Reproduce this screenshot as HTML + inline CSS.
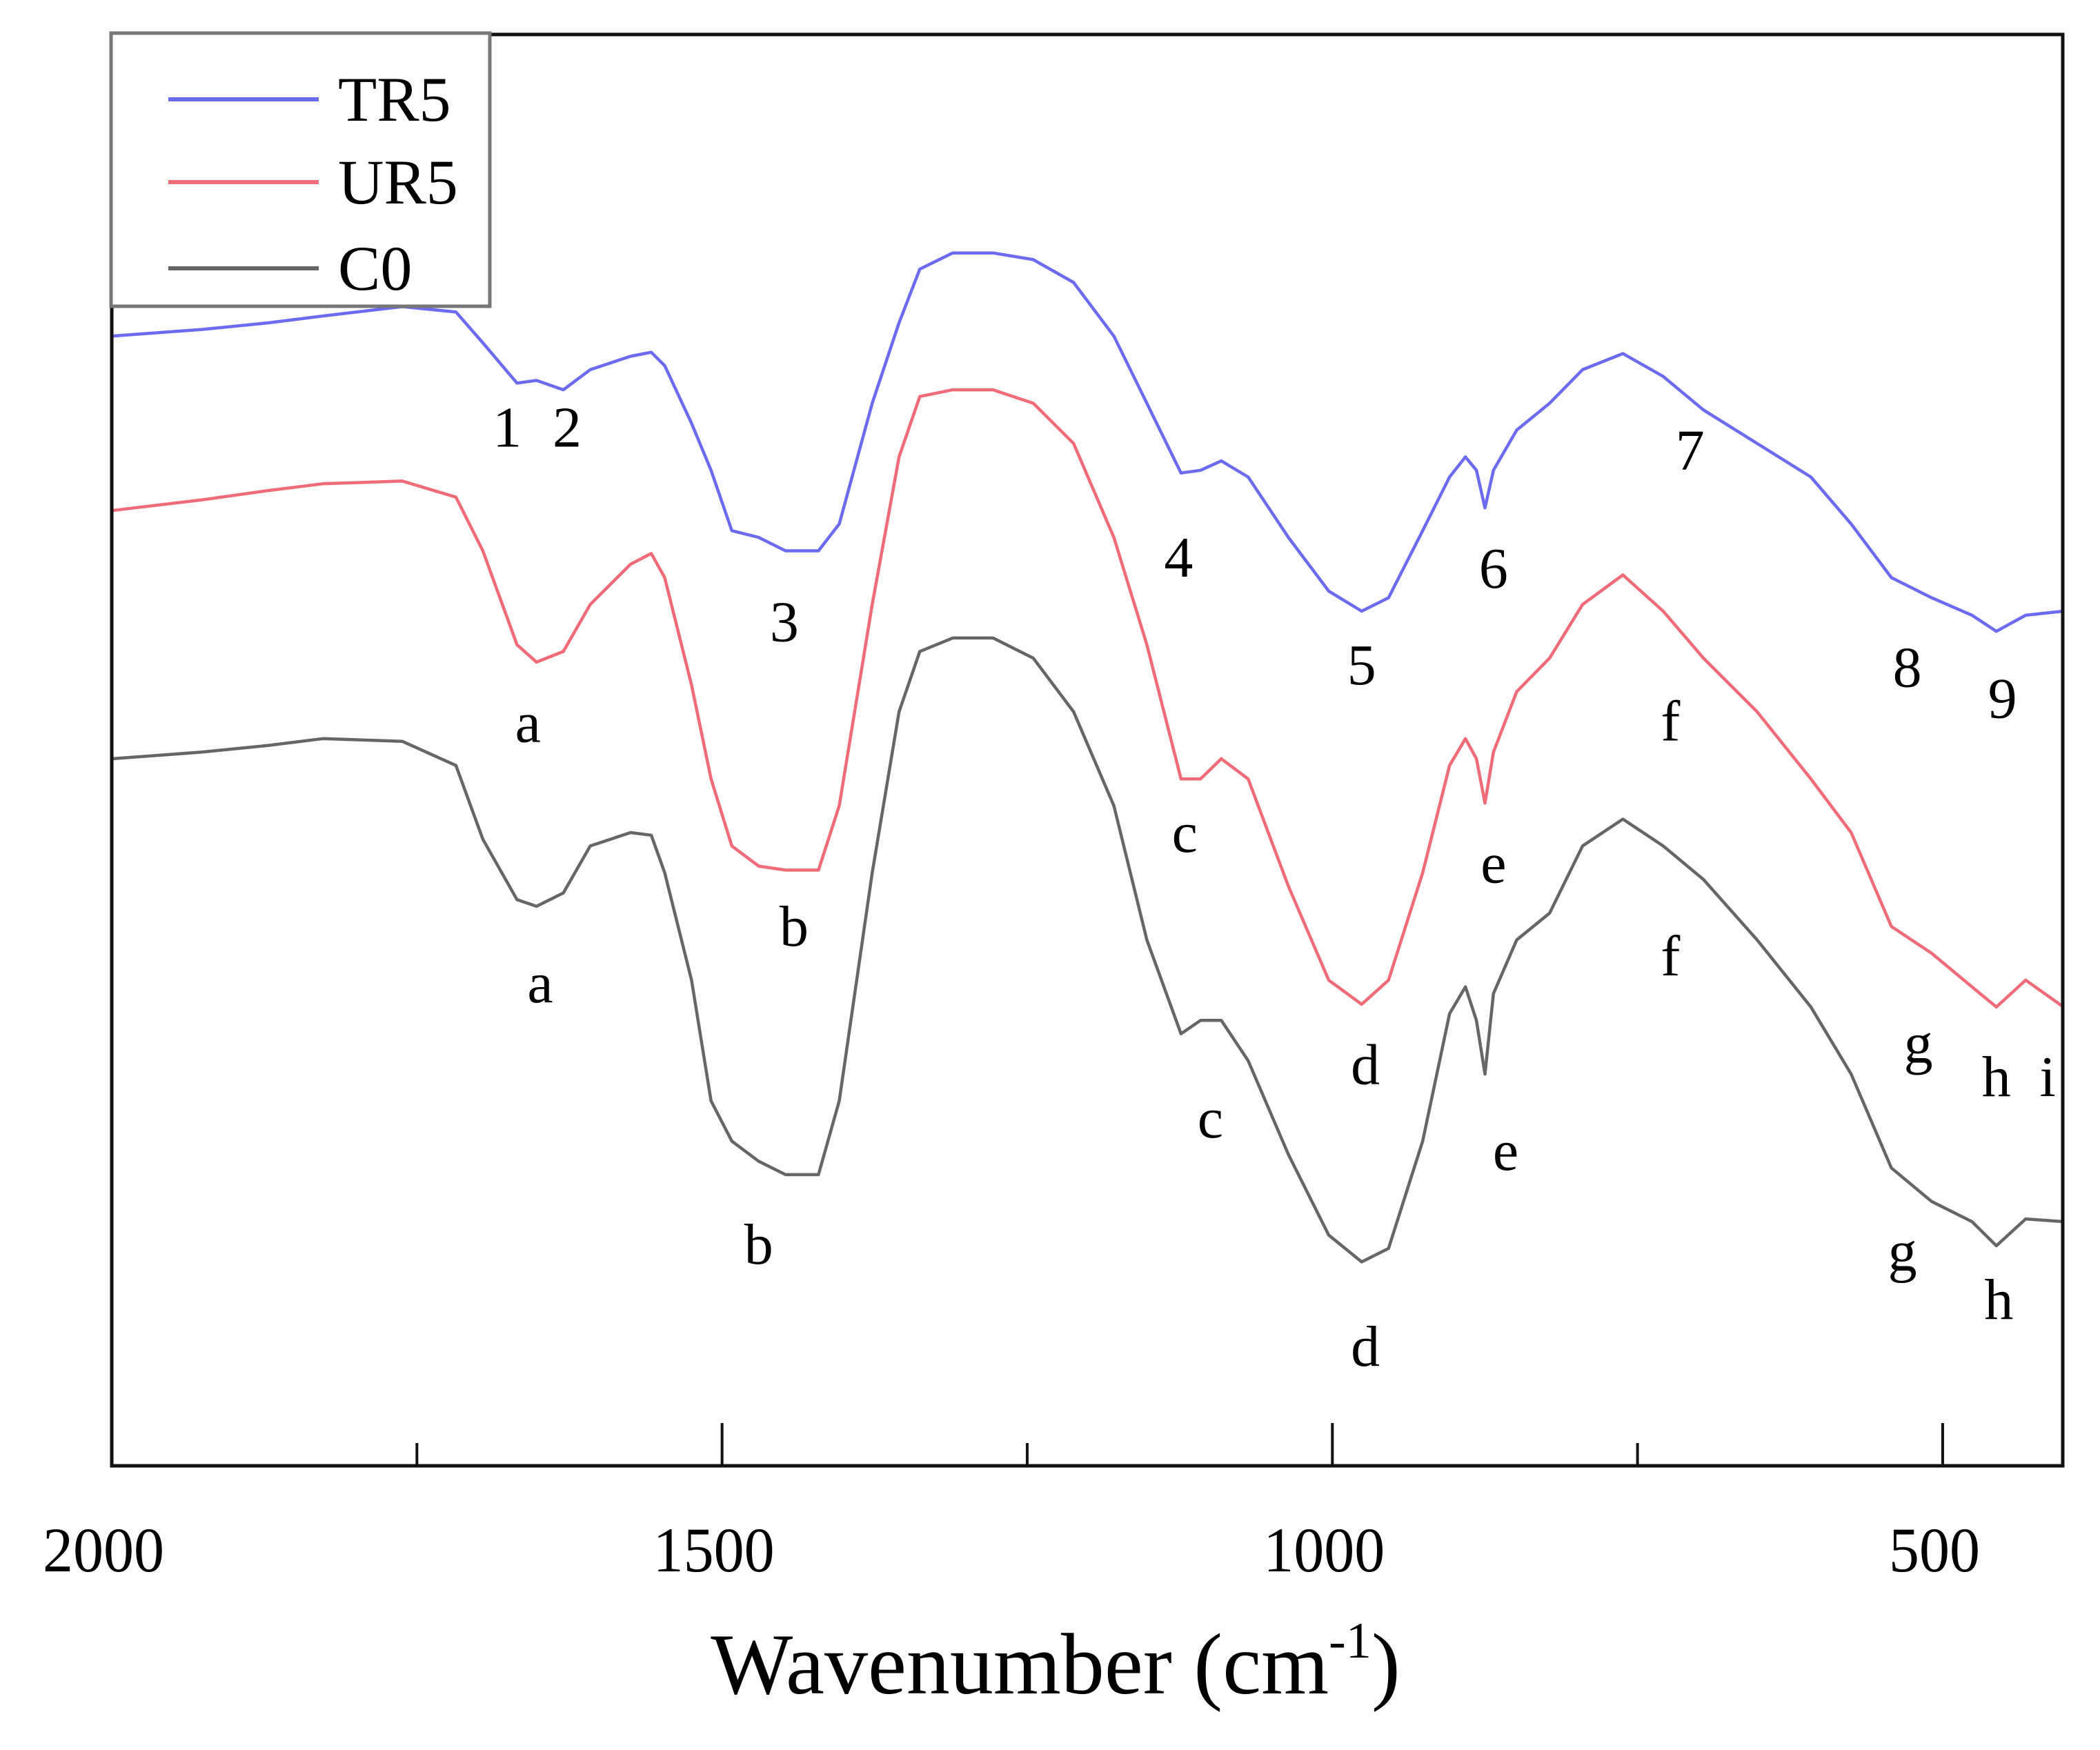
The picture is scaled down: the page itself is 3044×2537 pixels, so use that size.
<!DOCTYPE html>
<html><head><meta charset="utf-8"><style>
html,body{margin:0;padding:0;background:#fdfdfd;}
svg{display:block;font-family:"Liberation Serif",serif;}
</style></head><body>
<svg id="chart" width="3044" height="2537" viewBox="0 0 3044 2537">
<rect x="0" y="0" width="3044" height="2537" fill="#fdfdfd"/>
<g id="series"></g>
<g id="peaks"></g>
<rect x="162" y="50" width="2828" height="2075" fill="none" stroke="#111" stroke-width="5"/>
<g id="xaxis"></g>
<text x="1530" y="2455" font-size="126" text-anchor="middle">Wavenumber (cm<tspan font-size="74" dy="-52">-1</tspan><tspan dy="52">)</tspan></text>
<g>
<rect x="161" y="48" width="549" height="396" fill="#fdfdfd" stroke="#777" stroke-width="5"/>
<line x1="244" y1="144" x2="462" y2="144" stroke="#6b6bf0" stroke-width="6"/>
<text x="490" y="175" font-size="92">TR5</text>
<line x1="244" y1="264" x2="462" y2="264" stroke="#f06b78" stroke-width="6"/>
<text x="490" y="295" font-size="92">UR5</text>
<line x1="244" y1="389" x2="462" y2="389" stroke="#666" stroke-width="6"/>
<text x="490" y="420" font-size="92">C0</text>
</g>
</svg>
<script>
const wavenumbers=[2000,1926,1871,1827,1762,1718,1696,1668,1652,1630,1608,1575,1558,1547,1525,1509,1492,1470,1448,1421,1404,1377,1355,1338,1311,1278,1245,1212,1179,1152,1124,1108,1091,1069,1036,1003,976,954,926,904,891,882,875,868,849,822,795,762,729,696,652,608,575,542,509,476,456,432,401];
const tr5=[84.2,84.7,85.2,85.7,86.4,86,83.7,80.7,80.9,80.2,81.7,82.7,83,82,77.7,74.2,69.7,69.2,68.2,68.2,70.2,79.2,85.2,89.2,90.4,90.4,89.9,88.2,84.2,79.2,74,74.2,74.9,73.7,69.2,65.2,63.7,64.7,69.7,73.7,75.2,74.2,71.4,74.2,77.2,79.2,81.7,82.9,81.2,78.7,76.2,73.7,70.2,66.2,64.7,63.4,62.2,63.4,63.7];
const ur5=[71.2,72,72.7,73.2,73.4,72.2,68.2,61.2,59.9,60.7,64.2,67.2,68,66.2,58.2,51.2,46.2,44.7,44.4,44.4,49.2,64.2,75.2,79.7,80.2,80.2,79.2,76.2,69.2,61.2,51.2,51.2,52.7,51.2,43.2,36.2,34.4,36.2,44.2,52.2,54.2,52.7,49.4,53.2,57.7,60.2,64.2,66.4,63.7,60.2,56.2,51.2,47.2,40.2,38.2,35.7,34.2,36.2,34.2];
const c0=[52.7,53.2,53.7,54.2,54,52.2,46.7,42.2,41.7,42.7,46.2,47.2,47,44.2,36.2,27.2,24.2,22.7,21.7,21.7,27.2,44.2,56.2,60.7,61.7,61.7,60.2,56.2,49.2,39.2,32.2,33.2,33.2,30.2,23.2,17.2,15.2,16.2,24.2,33.7,35.7,33.2,29.2,35.2,39.2,41.2,46.2,48.2,46.2,43.7,39.2,34.2,29.2,22.2,19.7,18.2,16.4,18.4,18.2];
const majorTicks=[2000,1500,1000,500];
const minorTicks=[1750,1250,750];
const peakText=["1","2","3","4","5","6","7","8","9","a","a","b","b","c","c","d","d","e","e","f","f","g","g","h","h","i"];
const peakWn=[1676,1627,1449,1126,976,868,707,529,451,1659,1649,1441,1470,1121,1100,973,973,868,858,723,723,520,533,456,454,414];
const peakVal=[77.4,77.4,62.9,67.7,59.7,66.9,75.7,59.5,57.2,55.4,36,40.2,16.5,47.2,25.9,29.9,8.9,44.9,23.5,55.5,38,31.5,16,29,12.4,29];

const NS="http://www.w3.org/2000/svg";
function xs(w){return 162+(2000-w)*1.7693;}
function ys(v){return 2125-v*19.45;}

const sg=document.getElementById('series');
[[c0,'#666','c0'],[ur5,'#f06b78','ur5'],[tr5,'#6b6bf0','tr5']].forEach(([arr,col,nm])=>{
  const p=document.createElementNS(NS,'path');
  p.setAttribute('d',arr.map((v,i)=>(i?'L':'M')+xs(wavenumbers[i]).toFixed(1)+' '+ys(v).toFixed(1)).join(' '));
  p.setAttribute('fill','none');p.setAttribute('stroke',col);p.setAttribute('stroke-width','4.5');p.setAttribute('stroke-linejoin','round');
  
  
  sg.appendChild(p);
});

const pg=document.getElementById('peaks');
peakText.forEach((t,i)=>{
  const e=document.createElementNS(NS,'text');
  e.setAttribute('x',xs(peakWn[i]));e.setAttribute('y',ys(peakVal[i])+28);
  e.setAttribute('font-size','84');e.setAttribute('text-anchor','middle');
  e.textContent=t;
  
  
  pg.appendChild(e);
});

const xa=document.getElementById('xaxis');
majorTicks.forEach(w=>{
  const l=document.createElementNS(NS,'line');
  l.setAttribute('x1',xs(w));l.setAttribute('x2',xs(w));l.setAttribute('y1',2125);l.setAttribute('y2',2063);
  l.setAttribute('stroke','#111');l.setAttribute('stroke-width','4');
  
  
  xa.appendChild(l);
  const t=document.createElementNS(NS,'text');
  t.setAttribute('x',xs(w)-12);t.setAttribute('y',2278);t.setAttribute('font-size','92');t.setAttribute('text-anchor','middle');
  t.setAttribute('textLength', String(w).length*44);
  t.setAttribute('lengthAdjust','spacingAndGlyphs');
  t.textContent=w;
  
  
  xa.appendChild(t);
});
minorTicks.forEach(w=>{
  const l=document.createElementNS(NS,'line');
  l.setAttribute('x1',xs(w));l.setAttribute('x2',xs(w));l.setAttribute('y1',2125);l.setAttribute('y2',2092);
  l.setAttribute('stroke','#111');l.setAttribute('stroke-width','4');
  
  
  xa.appendChild(l);
});
</script>
</body></html>
